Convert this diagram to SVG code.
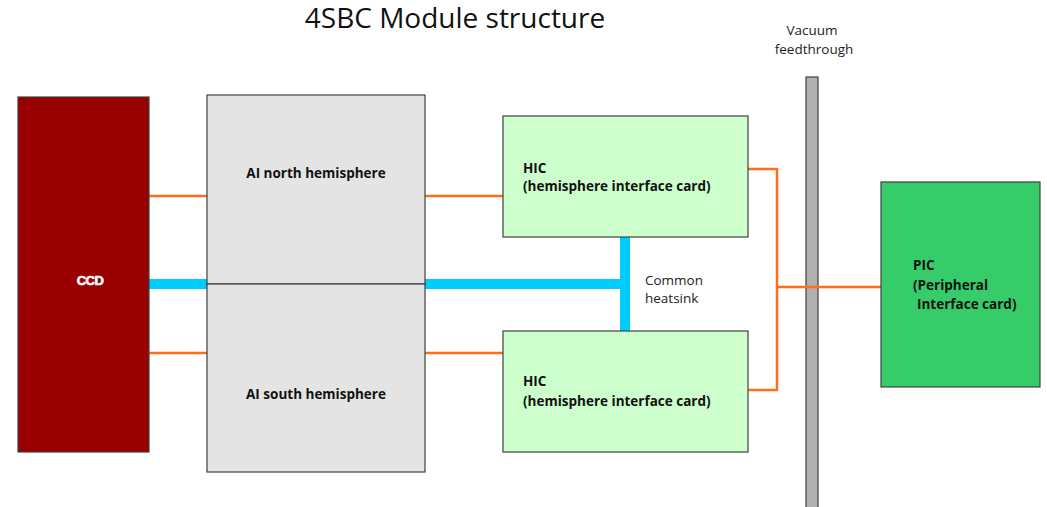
<svg xmlns="http://www.w3.org/2000/svg" width="1047" height="507" viewBox="0 0 1047 507">
<style>
.box{stroke:#404040;stroke-width:1.2}
.lbl{font-family:"Open Sans","Liberation Sans",sans-serif;font-size:13.5px;font-weight:bold;fill:#111}
.txt{font-family:"Open Sans","Liberation Sans",sans-serif;font-size:13.5px;fill:#222}
.or{stroke:#ff6f1a;stroke-width:2.5;fill:none}
.cy{stroke:#00ccff;stroke-width:10;fill:none}
</style>
<rect width="1047" height="507" fill="#fff"/>
<text x="455" y="28" text-anchor="middle" font-family="Open Sans, Liberation Sans, sans-serif" font-size="28" fill="#111">4SBC Module structure</text>
<g id="connectors">
<line class="or" x1="149" y1="196" x2="207" y2="196"/>
<line class="or" x1="149" y1="353" x2="207" y2="353"/>
<line class="or" x1="425" y1="196" x2="503" y2="196"/>
<line class="or" x1="425" y1="353" x2="503" y2="353"/>
<polyline class="or" points="748,169 777,169 777,390 748,390"/>
<line class="cy" x1="149" y1="284" x2="207" y2="284"/>
<line class="cy" x1="425" y1="284" x2="625" y2="284"/>
<line class="cy" x1="625" y1="237" x2="625" y2="331"/>
</g>
<g id="feedthrough">
<rect x="806" y="77" width="12" height="440" fill="#b0b0b0" class="box"/>
<text class="txt" x="812" y="35" text-anchor="middle">Vacuum</text>
<text class="txt" x="814" y="54" text-anchor="middle">feedthrough</text>
</g>
<line class="or" x1="777" y1="287" x2="881" y2="287"/>
<g id="ccd">
<rect x="18" y="97" width="131" height="355" fill="#990000" class="box"/>
<text x="90" y="285" text-anchor="middle" font-family="Liberation Sans, sans-serif" font-size="13" font-weight="bold" fill="#fff" stroke="#fff" stroke-width="0.6" letter-spacing="-0.5">CCD</text>
</g>
<g id="ai-north">
<rect x="207" y="95" width="218" height="189" fill="#e4e4e4" class="box"/>
<text class="lbl" x="316" y="178" text-anchor="middle">AI north hemisphere</text>
</g>
<g id="ai-south">
<rect x="207" y="284" width="218" height="188" fill="#e4e4e4" class="box"/>
<text class="lbl" x="316" y="399" text-anchor="middle">AI south hemisphere</text>
</g>
<g id="hic-north">
<rect x="503" y="116" width="245" height="121" fill="#ccffcc" class="box"/>
<text class="lbl" x="523" y="173">HIC</text>
<text class="lbl" x="523" y="191">(hemisphere interface card)</text>
</g>
<g id="hic-south">
<rect x="503" y="331" width="245" height="121" fill="#ccffcc" class="box"/>
<text class="lbl" x="523" y="386">HIC</text>
<text class="lbl" x="523" y="406">(hemisphere interface card)</text>
</g>
<g id="heatsink-label">
<text class="txt" x="645" y="285">Common</text>
<text class="txt" x="645" y="303">heatsink</text>
</g>
<g id="pic">
<rect x="881" y="182" width="159" height="205" fill="#36cc6a" class="box"/>
<text class="lbl" x="913" y="270">PIC</text>
<text class="lbl" x="913" y="290">(Peripheral</text>
<text class="lbl" x="917" y="309">Interface card)</text>
</g>
</svg>
